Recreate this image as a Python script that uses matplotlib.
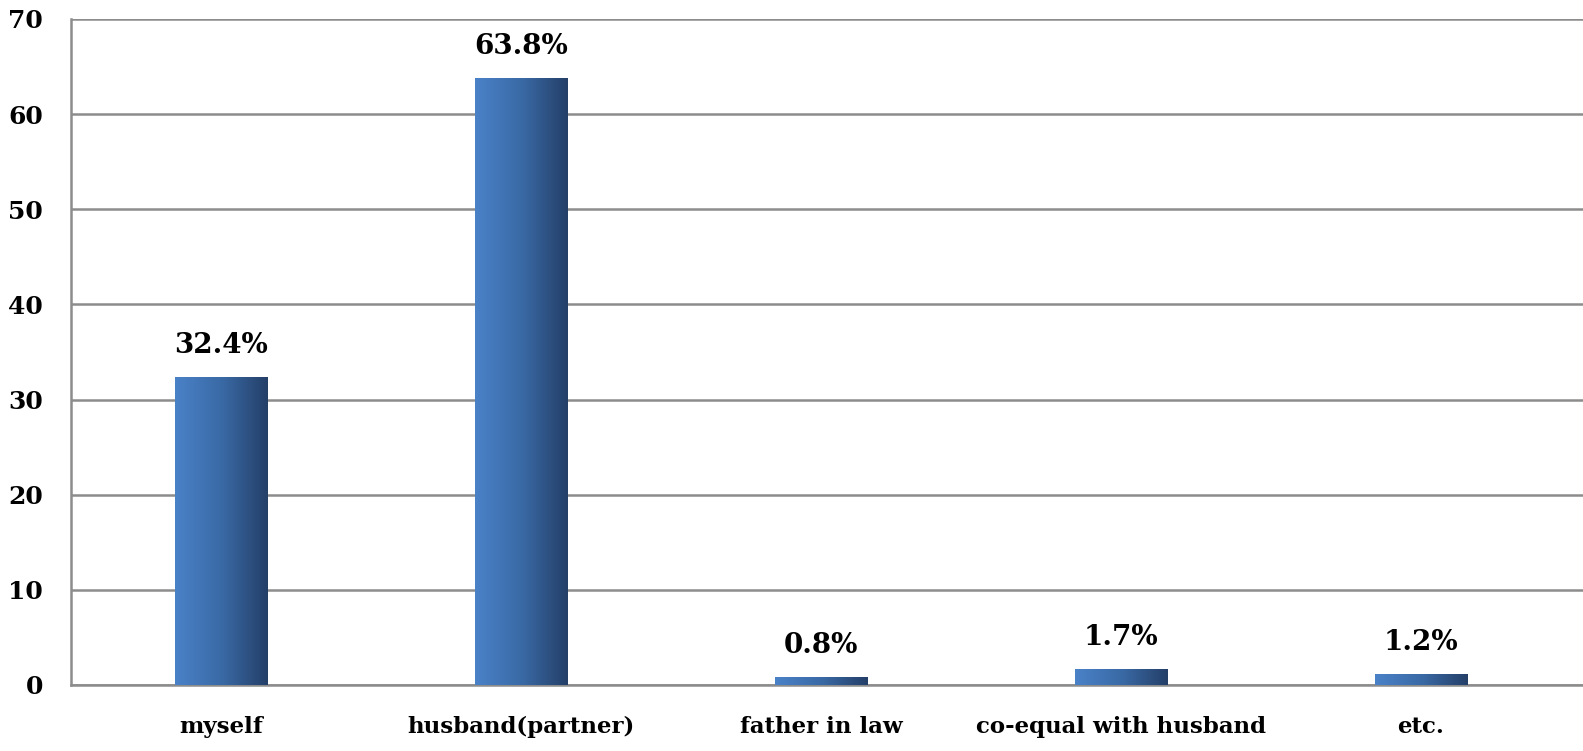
import matplotlib
matplotlib.use("Agg")
import matplotlib.pyplot as plt
import numpy as np
from matplotlib.colors import LinearSegmentedColormap

categories = ["myself", "husband(partner)", "father in law", "co-equal with husband", "etc."]
values = [32.4, 63.8, 0.8, 1.7, 1.2]
labels = ["32.4%", "63.8%", "0.8%", "1.7%", "1.2%"]
yticks = [0, 10, 20, 30, 40, 50, 60, 70]

plt.rcParams['font.family'] = ['DejaVu Serif']
plt.rcParams['font.weight'] = 'bold'

W, H = 1583, 751
fig = plt.figure(figsize=(W / 100, H / 100), dpi=100)
ax = fig.add_axes([71 / W, (751 - 685) / H, (W - 71) / W, (685 - 19) / H])

cmap = LinearSegmentedColormap.from_list("g", ["#4a82c8", "#3a6aa6", "#243f68"])
grad = np.linspace(0, 1, 256).reshape(1, -1)
bw = 0.31
x = np.arange(len(categories))
bars = ax.bar(x, values, width=bw, color="none", edgecolor="none", zorder=3)
for b in bars:
    x0, y0 = b.get_x(), b.get_y()
    w, h = b.get_width(), b.get_height()
    im = ax.imshow(grad, cmap=cmap, aspect="auto", extent=[x0, x0 + w, y0, y0 + h], zorder=3)
    im.set_clip_path(b)

for xi, v, lab in zip(x, values, labels):
    ax.annotate(lab, (xi, v), xytext=(0, 13), textcoords="offset points",
                ha="center", va="bottom", fontsize=20, fontweight="bold")

ax.set_xlim(-0.5, (W - 71) / 300 - 0.5)
ax.set_ylim(0, 70)
ax.set_yticks(yticks)
ax.set_xticks(x)
ax.set_xticklabels(categories, fontsize=16.5, fontweight="bold")
ax.tick_params(axis="y", length=0, pad=20, labelsize=18)
ax.tick_params(axis="x", length=0, pad=22)
ax.grid(axis="y", color="#8c8c8c", linewidth=1.8, zorder=0)
ax.set_axisbelow(True)
for s in ["top", "right"]:
    ax.spines[s].set_visible(False)
ax.spines["left"].set_color("#8c8c8c")
ax.spines["left"].set_linewidth(1.8)
ax.spines["bottom"].set_color("#8c8c8c")
ax.spines["bottom"].set_linewidth(1.8)

fig.savefig("out.png", dpi=100)
